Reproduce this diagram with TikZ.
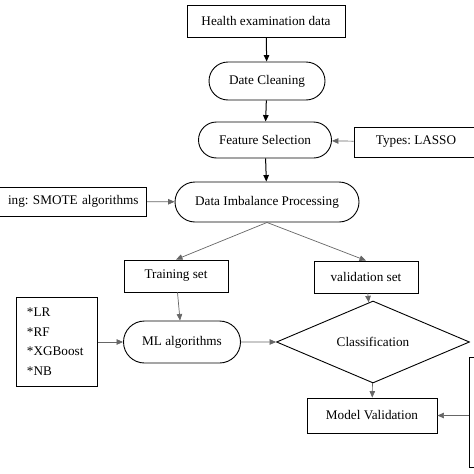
\documentclass[tikz,border=0pt]{standalone}
\usepackage{fontspec}
\setmainfont{Liberation Serif}
\usetikzlibrary{shapes.misc,shapes.geometric,arrows.meta}
\frenchspacing
\begin{document}
\begin{tikzpicture}[x=1pt,y=-1pt]
	% sizes of the boxes
	\def\bh{32}
	\def\rh{38}
	\def\lw{0.9pt}
	% node style definition
	\tikzstyle{box} = [draw, line width=\lw, rectangle, minimum height=\bh, inner sep=2pt, font=\fontsize{13.2}{15}\selectfont];
	\tikzstyle{pill} = [draw, line width=\lw, rounded rectangle, minimum height=\rh, inner sep=2pt, font=\fontsize{13.2}{15}\selectfont];
	\tikzstyle{main} = [draw=black, line width=1pt, -{Triangle[length=6.5pt,width=5.5pt]}];
	\tikzstyle{side} = [draw=black!60, line width=0.7pt, -{Triangle[length=6.5pt,width=5.5pt]}];
	\useasboundingbox (0,0) rectangle (474,474);
	% main column
	\node[box, minimum width=158] (health) at (266,21) {Health examination data};
	\node[pill, minimum width=120] (clean) at (267,81) {Date Cleaning};
	\node[pill, minimum width=137, minimum height=36] (feat) at (265,140) {Feature Selection};
	\node[pill, minimum width=188, minimum height=40] (imb) at (267,202) {Data Imbalance Processing};
	% side inputs
	\node[box, minimum width=124, minimum height=30] (lasso) at (416,142) {Types: LASSO};
	\node[box, anchor=east, text width=150, align=right, inner xsep=8pt, minimum height=29] (smote) at (147,201.5) {ing: SMOTE algorithms};
	% the two sets
	\node[box, minimum width=104] (train) at (176,276) {Training set};
	\node[box, minimum width=104] (valid) at (366,277) {validation set};
	% models
	\node[box, minimum width=81, minimum height=89, align=left, text width=60, font=\fontsize{13.2}{19.5}\selectfont] (algs) at (57,341.5) {*LR\\{*}RF\\{*}XGBoost\\{*}NB};
	\node[pill, minimum width=121, minimum height=42] (ml) at (182,342) {ML algorithms};
	\node[draw, line width=\lw, diamond, minimum width=193, minimum height=59, inner sep=0pt, font=\fontsize{13.2}{15}\selectfont] (cls) at (373,342) {Classification};
	\node[box, minimum width=130, minimum height=35] (val) at (372,415.5) {Model Validation};
	\node[box, minimum width=52, minimum height=110] (extra) at (495,412) {};
	% connectors
	\draw[main] (health) -- (clean);
	\draw[main] (clean) -- (feat);
	\draw[main] (feat) -- (imb);
	\draw[side] (lasso) -- (feat);
	\draw[side] (smote) -- (imb);
	\draw[side] (imb.south) -- (train.north);
	\draw[side] (imb.south) -- (valid.north);
	\draw[side] (train) -- (ml);
	\draw[side] (valid) -- (cls);
	\draw[side] (algs.east |- ml) -- (ml);
	\draw[side] (ml) -- (cls);
	\draw[side] (cls) -- (val);
	\draw[side] (extra.west |- val) -- (val);
\end{tikzpicture}
\end{document}
